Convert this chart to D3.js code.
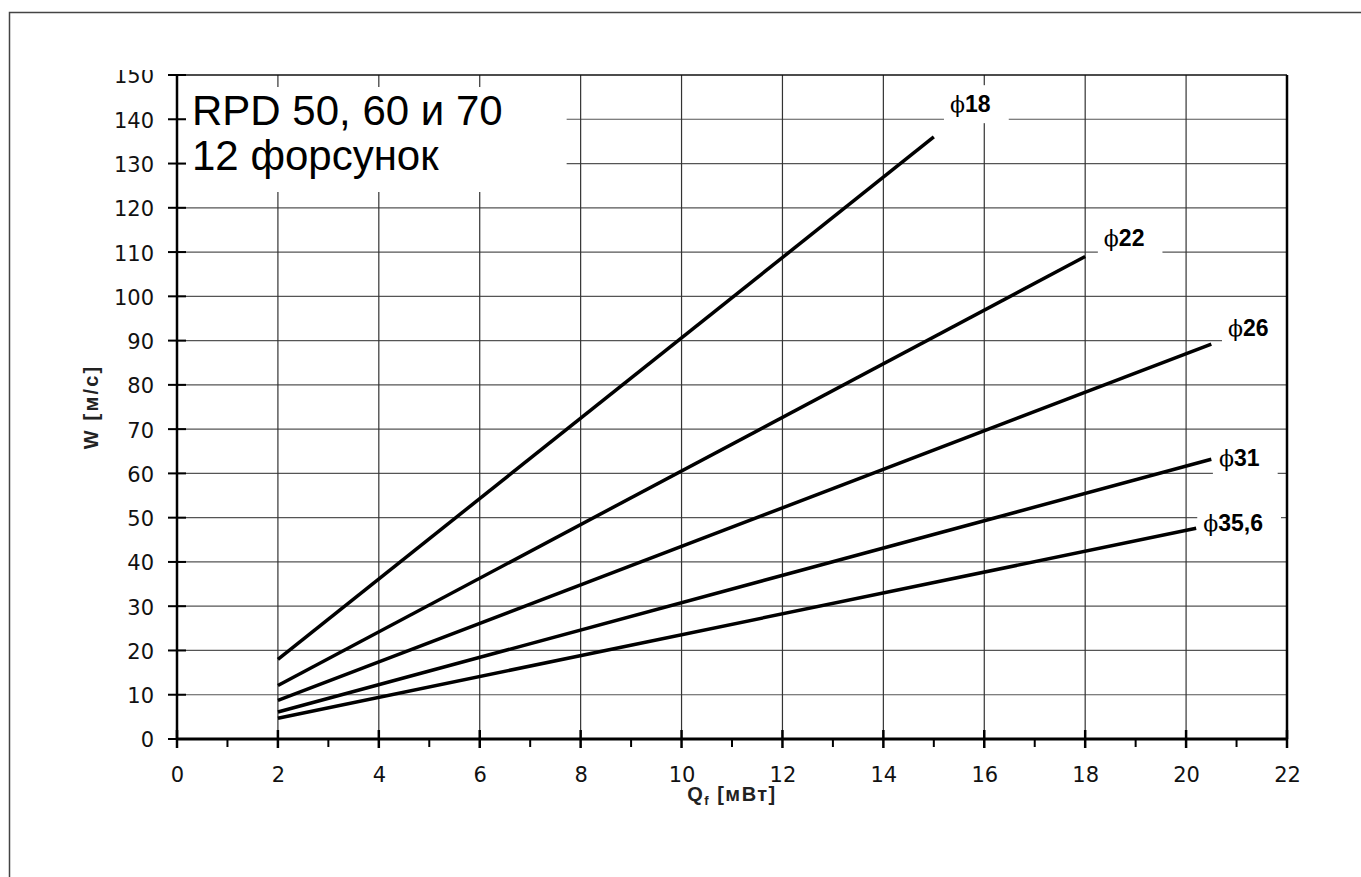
<!DOCTYPE html>
<html>
<head>
<meta charset="utf-8">
<script src="https://cdn.jsdelivr.net/npm/d3@7"></script>
<style>
  body { margin: 0; background: #fff; }
</style>
</head>
<body>
<svg id="chart" width="1361" height="877"></svg>
<script>
// nozzle diameters (labels on the lines)
const nozzles = ["18", "22", "26", "31", "35,6"];
// each line: start and end point, Q in MW, W in m/s
const qStart = [2, 2, 2, 2, 2];
const wStart = [18, 12.1, 8.7, 6.1, 4.7];
const qEnd = [15, 18, 20.5, 20.5, 20.2];
const wEnd = [136, 109, 89.2, 63.2, 47.6];
// where each label sits (data units: left edge, baseline)
const labelQ = [15.32, 18.37, 20.83, 20.65, 20.34];
const labelW = [141.6, 111.4, 91.0, 61.7, 47.0];

const xTicks = d3.range(0, 23, 2);
const xMinor = d3.range(1, 22, 2);
const yTicks = d3.range(0, 151, 10);
const titleLines = ["RPD 50, 60 и 70", "12 форсунок"];

const svg = d3.select("#chart");
const x = d3.scaleLinear().domain([0, 22]).range([177, 1287]);
const y = d3.scaleLinear().domain([0, 150]).range([739, 75]);

// outer frame (runs off the page at right/bottom)
svg.append("rect")
    .attr("x", 9.5).attr("y", 12.5)
    .attr("width", 1400).attr("height", 900)
    .attr("fill", "none").attr("stroke", "#444").attr("stroke-width", 1.5);

// gridlines
svg.append("g").selectAll("line")
    .data(yTicks.filter(d => d > 0 && d < 150))
    .enter().append("line")
        .attr("x1", x(0)).attr("x2", x(22))
        .attr("y1", d => y(d)).attr("y2", d => y(d))
        .attr("stroke", "#555").attr("stroke-width", 1.2);
svg.append("g").selectAll("line")
    .data(xTicks.filter(d => d > 0 && d < 22))
    .enter().append("line")
        .attr("x1", d => x(d)).attr("x2", d => x(d))
        .attr("y1", y(150)).attr("y2", y(0))
        .attr("stroke", "#333").attr("stroke-width", 1.2);

// title (white box hides the grid)
const titleG = svg.append("g");
const titleBox = titleG.append("rect").attr("fill", "#fff");
const titleText = titleG.append("text")
    .attr("font-family", "Liberation Sans, Arial, sans-serif")
    .attr("font-size", 42)
    .attr("fill", "#000");
titleLines.forEach((t, i) => {
    titleText.append("tspan").attr("x", x(0) + 15).attr("y", y(150) + 50 + i * 45).text(t);
});
const tb = titleText.node().getBBox();
titleBox.attr("x", tb.x - 6).attr("y", y(150) + 12)
    .attr("width", tb.width + 70).attr("height", 105);

// line labels with white boxes
const labelG = svg.append("g").selectAll("g")
    .data(nozzles)
    .enter().append("g");
labelG.append("rect").attr("fill", "#fff");
const labelText = labelG.append("text")
    .attr("x", (d, i) => x(labelQ[i]))
    .attr("y", (d, i) => y(labelW[i]))
    .attr("fill", "#000");
labelText.append("tspan")
    .attr("font-family", "DejaVu Serif, serif")
    .attr("font-size", 22)
    .text("ϕ");
labelText.append("tspan")
    .attr("font-family", "Liberation Sans, Arial, sans-serif")
    .attr("font-weight", "bold")
    .attr("font-size", 23)
    .text(d => d);
labelG.each(function() {
    const g = d3.select(this);
    const b = g.select("text").node().getBBox();
    g.select("rect")
        .attr("x", b.x - 6).attr("y", b.y - 6)
        .attr("width", b.width + 24).attr("height", b.height + 12);
});

// plot border: top and right
svg.append("line")
    .attr("x1", x(0) - 9).attr("x2", x(22))
    .attr("y1", y(150)).attr("y2", y(150))
    .attr("stroke", "#111").attr("stroke-width", 1.5);
svg.append("line")
    .attr("x1", x(22)).attr("x2", x(22))
    .attr("y1", y(150)).attr("y2", y(0))
    .attr("stroke", "#000").attr("stroke-width", 2.5);

// y axis (top label is cut off in the original)
svg.append("clipPath").attr("id", "yclip")
    .append("rect").attr("x", -300).attr("y", 70).attr("width", 300).attr("height", 800);
const yAxis = d3.axisLeft(y).tickValues(yTicks).tickSize(0).tickPadding(23);
const yg = svg.append("g")
    .attr("transform", "translate(" + x(0) + ",0)")
    .attr("clip-path", "url(#yclip)")
    .call(yAxis);
yg.select(".domain").remove();
yg.selectAll("text")
    .attr("font-family", "DejaVu Sans, sans-serif")
    .attr("font-size", 21)
    .attr("dy", "0.38em")
    .attr("fill", "#111");
svg.append("g").selectAll("line")
    .data(yTicks)
    .enter().append("line")
        .attr("x1", x(0) - 9).attr("x2", x(0) + 9)
        .attr("y1", d => y(d)).attr("y2", d => y(d))
        .attr("stroke", "#000").attr("stroke-width", 2);
svg.append("line")
    .attr("x1", x(0)).attr("x2", x(0))
    .attr("y1", y(150)).attr("y2", y(0))
    .attr("stroke", "#000").attr("stroke-width", 2.5);

// x axis
const xAxis = d3.axisBottom(x).tickValues(xTicks).tickSize(0).tickPadding(28);
const xg = svg.append("g")
    .attr("transform", "translate(0," + y(0) + ")")
    .call(xAxis);
xg.select(".domain").remove();
xg.selectAll("text")
    .attr("font-family", "DejaVu Sans, sans-serif")
    .attr("font-size", 21)
    .attr("fill", "#111");
svg.append("g").selectAll("line")
    .data(xTicks)
    .enter().append("line")
        .attr("x1", d => x(d)).attr("x2", d => x(d))
        .attr("y1", y(0) - 9).attr("y2", y(0) + 9)
        .attr("stroke", "#000").attr("stroke-width", 2.5);
svg.append("g").selectAll("line")
    .data(xMinor)
    .enter().append("line")
        .attr("x1", d => x(d)).attr("x2", d => x(d))
        .attr("y1", y(0)).attr("y2", y(0) + 8)
        .attr("stroke", "#000").attr("stroke-width", 2);
svg.append("line")
    .attr("x1", x(0)).attr("x2", x(22))
    .attr("y1", y(0)).attr("y2", y(0))
    .attr("stroke", "#000").attr("stroke-width", 3);

// series lines
const line = d3.line().x(d => x(d[0])).y(d => y(d[1]));
svg.append("g").selectAll("path")
    .data(nozzles.map((n, i) => [[qStart[i], wStart[i]], [qEnd[i], wEnd[i]]]))
    .enter().append("path")
        .attr("d", line)
        .attr("fill", "none")
        .attr("stroke", "#000")
        .attr("stroke-width", 3.5);

// axis titles
svg.append("text")
    .attr("transform", "translate(98," + y(75) + ") rotate(-90)")
    .attr("text-anchor", "middle")
    .attr("font-family", "Liberation Sans, Arial, sans-serif")
    .attr("font-weight", "bold")
    .attr("font-size", 20)
    .attr("letter-spacing", 2.2)
    .attr("fill", "#222")
    .text("W [м/с]");
const qTitle = svg.append("text")
    .attr("x", (x(0) + x(22)) / 2)
    .attr("y", 801)
    .attr("text-anchor", "middle")
    .attr("font-family", "Liberation Sans, Arial, sans-serif")
    .attr("font-weight", "bold")
    .attr("font-size", 20)
    .attr("letter-spacing", 1.5)
    .attr("fill", "#222");
qTitle.append("tspan").text("Q");
qTitle.append("tspan").attr("font-size", 13).attr("dy", 4).text("f");
qTitle.append("tspan").attr("dy", -4).text(" [мВт]");
</script>
</body>
</html>
